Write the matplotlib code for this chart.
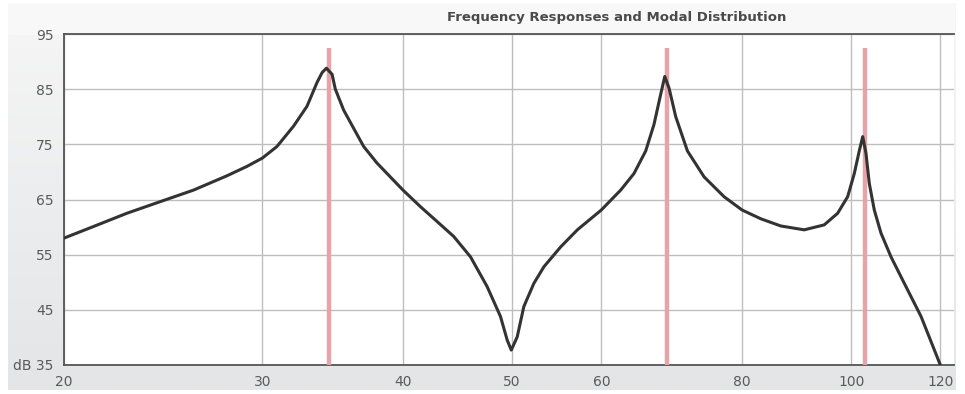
import numpy as np
import matplotlib.pyplot as plt
from matplotlib.colors import LinearSegmentedColormap
from matplotlib.ticker import FixedLocator, NullLocator

# frequency response (Hz, dB)
freq = [20.0, 21.24, 22.74, 24.34, 26.06, 27.91, 29.07, 30.0, 30.91, 31.98,
        32.87, 33.55, 33.90, 34.20, 34.60, 34.83, 35.43, 36.16, 36.91, 37.93,
        40.0, 41.45, 42.89, 44.37, 45.92, 47.51, 48.82, 49.50, 49.91, 50.52,
        51.21, 52.27, 53.35, 55.21, 57.13, 60.0, 62.42, 64.14, 65.70, 66.82,
        67.75, 68.31, 68.91, 69.86, 71.55, 74.03, 77.12, 80.0, 83.14, 86.61,
        90.84, 94.64, 97.27, 99.28, 100.64, 101.67, 102.39, 103.07, 103.78,
        104.84, 106.29, 108.49, 111.48, 115.36, 120.0]
level = [58.0, 60.1, 62.5, 64.6, 66.7, 69.3, 71.0, 72.5, 74.6, 78.3,
         81.9, 86.2, 88.0, 88.8, 87.7, 85.0, 81.2, 77.9, 74.6, 71.6,
         66.7, 63.7, 61.0, 58.3, 54.6, 49.2, 43.8, 39.5, 37.7, 40.1,
         45.6, 49.8, 52.8, 56.4, 59.5, 63.1, 66.7, 69.7, 73.8, 78.6,
         84.1, 87.3, 85.2, 80.0, 73.8, 69.1, 65.5, 63.1, 61.5, 60.2,
         59.5, 60.4, 62.5, 65.5, 69.7, 73.8, 76.4, 73.4, 67.9,
         63.1, 58.9, 54.6, 49.8, 43.8, 35.0]

# room modes
modes = [34.36, 68.58, 102.9]
mode_top = 92.4

x_ticks = [20, 30, 40, 50, 60, 80, 100, 120]
y_ticks = [35, 45, 55, 65, 75, 85, 95]
y_labels = ["dB 35", "45", "55", "65", "75", "85", "95"]

fig = plt.figure(figsize=(9.65, 3.94), dpi=100)
fig.patch.set_facecolor("white")

# grey panel behind the chart
bg = fig.add_axes([8 / 965, 1 - 390 / 394, 947 / 965, 387 / 394])
grad = np.linspace(0, 1, 256).reshape(-1, 1)
cmap = LinearSegmentedColormap.from_list("panel", ["#f6f6f6", "#e3e5e7"])
bg.imshow(grad, aspect="auto", cmap=cmap, extent=[0, 1, 0, 1], origin="upper")
bg.add_patch(plt.Rectangle((0, 1 - 31 / 387), 1, 31 / 387, color="#f8f8f8", zorder=2))
bg.set_xlim(0, 1)
bg.set_ylim(0, 1)
bg.axis("off")

ax = fig.add_axes([64 / 965, 1 - 365 / 394, 890 / 965, 331 / 394])
ax.set_facecolor("white")
ax.set_xscale("log")
ax.set_xlim(20, 123.4)
ax.set_ylim(35, 95)

ax.xaxis.set_major_locator(FixedLocator(x_ticks))
ax.xaxis.set_minor_locator(NullLocator())
ax.set_xticklabels([str(t) for t in x_ticks])
ax.set_yticks(y_ticks)
ax.set_yticklabels(y_labels)
ax.tick_params(length=0, labelsize=10, colors="#5a5a5a")
ax.tick_params(axis="y", pad=7.5)
ax.tick_params(axis="x", pad=7)
ax.grid(True, color="#bdbdbd", linewidth=1.0)
ax.set_axisbelow(True)

for s in ["left", "bottom", "top"]:
    ax.spines[s].set_color("#555555")
    ax.spines[s].set_linewidth(1.3)
ax.spines["right"].set_visible(False)

for m in modes:
    ax.plot([m, m], [35, mode_top], color="#e8a3a8", linewidth=3.2, zorder=3,
            solid_capstyle="butt")

ax.plot(freq, level, color="#333333", linewidth=2.2, zorder=4,
        solid_joinstyle="round", solid_capstyle="round")

fig.text(617 / 965, 1 - 18 / 394, "Frequency Responses and Modal Distribution",
         ha="center", va="center", fontsize=9.5, color="#4a4a4a",
         fontweight="bold")

fig.savefig("out.png", dpi=100, facecolor=fig.get_facecolor())
